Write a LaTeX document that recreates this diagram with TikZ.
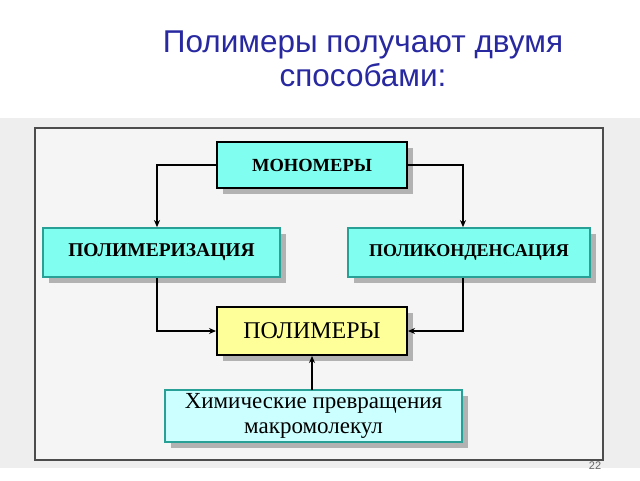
\documentclass[tikz,border=0pt]{standalone}
\usepackage{fontspec}
\setmainfont{Liberation Serif}
\newfontfamily\arialf{Liberation Sans}
\usetikzlibrary{arrows.meta,shadows}
\definecolor{titleblue}{RGB}{40,40,160}
\definecolor{cyanfill}{RGB}{128,255,240}
\definecolor{cyanlight}{RGB}{204,255,255}
\definecolor{tealline}{RGB}{40,160,150}
\definecolor{yellowfill}{RGB}{255,255,153}
\definecolor{bandgray}{RGB}{238,238,238}
\tikzset{
  boxbase/.style={rectangle, minimum height=#1, inner sep=0pt, align=center,
    drop shadow={shadow xshift=6pt, shadow yshift=-6pt, fill=black!30, opacity=1}},
  blackbox/.style={boxbase=46pt, draw=black, line width=2pt},
  tealbox/.style={boxbase=49pt, draw=tealline, line width=1.8pt, fill=cyanfill},
  conn/.style={draw=black, line width=1.6pt, -{Stealth[length=7pt,width=6pt]}},
}
\begin{document}
\begin{tikzpicture}[x=1pt,y=-1pt]
\useasboundingbox (0,0) rectangle (640,480);
\fill[white] (0,0) rectangle (640,480);
\fill[bandgray] (0,118) rectangle (640,468);
\draw[black!70, line width=1.2pt, fill=bandgray!60] (35,128) rectangle (603,460);
\node[titleblue, font=\arialf\fontsize{31.5}{34}\selectfont, align=center] (title) at (363,59) {Полимеры получают двумя\\способами:};
\node[black!60, font=\arialf\fontsize{11}{13}\selectfont] (pnum) at (595,466) {22};
\node[blackbox, fill=cyanfill, minimum width=190pt, font=\bfseries\fontsize{18.5}{20}\selectfont] (mono) at (312,165) {МОНОМЕРЫ};
\node[tealbox, minimum width=237pt, font=\bfseries\fontsize{19.5}{20}\selectfont] (polym) at (161.5,252.5) {ПОЛИМЕРИЗАЦИЯ};
\node[tealbox, minimum width=242pt, font=\bfseries\fontsize{18}{20}\selectfont] (polyc) at (469,252.5) {ПОЛИКОНДЕНСАЦИЯ};
\node[blackbox, fill=yellowfill, minimum width=190pt, minimum height=48pt, font=\fontsize{24}{26}\selectfont] (poly) at (312,331) {ПОЛИМЕРЫ};
\node[boxbase=52pt, draw=tealline, line width=1.8pt, fill=cyanlight, minimum width=297pt, font=\fontsize{23}{25}\selectfont] (chem) at (313.5,416) {Химические превращения\\макромолекул};
\coordinate (ml) at (157,165);
\coordinate (mr) at (463,165);
\coordinate (pl) at (157,331);
\coordinate (pr) at (463,331);
\coordinate (cu) at (312,390);
\draw[conn] (mono.west) -- (ml) -- (ml |- polym.north);
\draw[conn] (mono.east) -- (mr) -- (mr |- polyc.north);
\draw[conn] (pl |- polym.south) -- (pl) -- (poly.west);
\draw[conn] (pr |- polyc.south) -- (pr) -- (poly.east);
\draw[conn] (cu) -- (poly.south);
\end{tikzpicture}
\end{document}
